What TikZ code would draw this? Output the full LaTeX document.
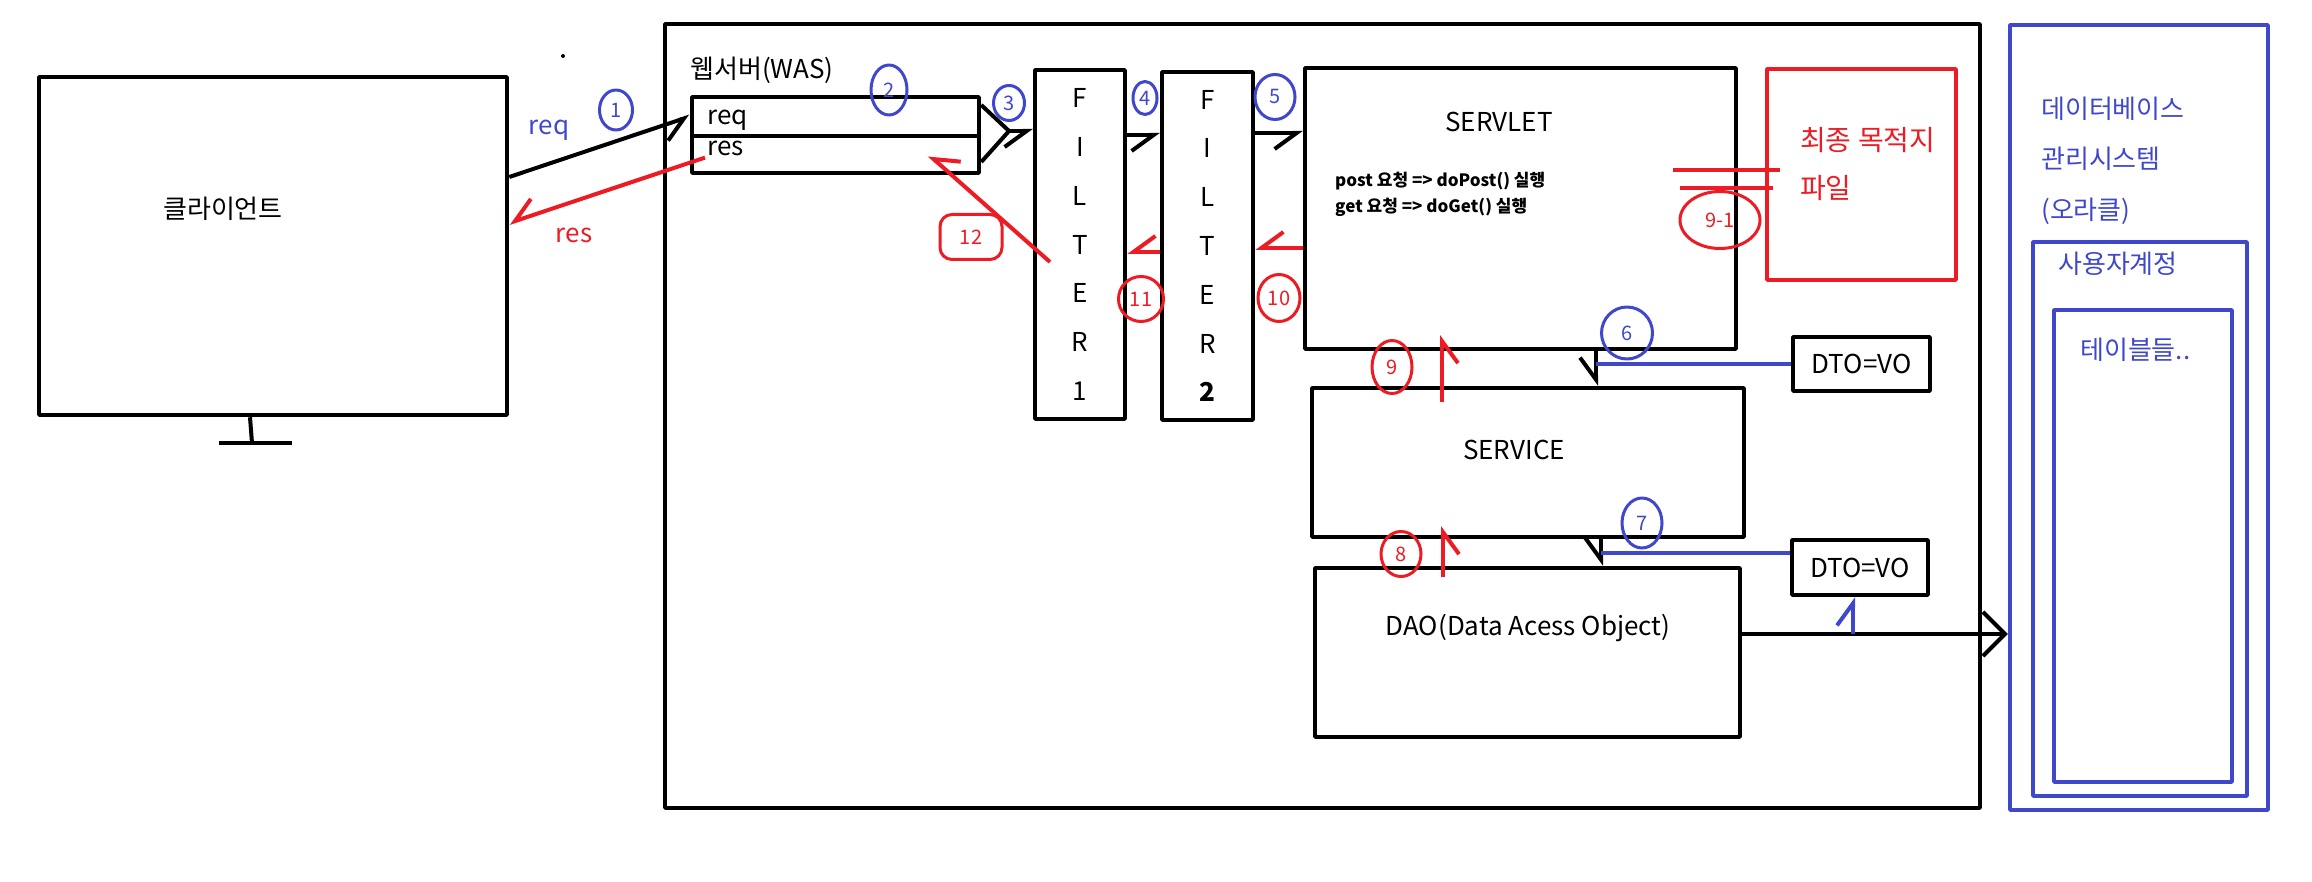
\documentclass[tikz,border=0pt]{standalone}
\usepackage{fontspec}
\setmainfont{Noto Sans CJK KR}
\usetikzlibrary{arrows.meta,shapes.geometric}
\definecolor{paintblue}{RGB}{63,72,204}
\definecolor{paintred}{RGB}{237,28,36}
\begin{document}
\begin{tikzpicture}[x=1pt,y=-1pt,line join=bevel,
  every node/.style={font=\fontsize{26}{30}\selectfont,inner sep=2pt},
  box/.style={draw,line width=4.5pt,inner sep=0pt},
  bluebox/.style={box,draw=paintblue},
  redbox/.style={box,draw=paintred},
  num/.style={ellipse,draw,line width=3pt,inner sep=0pt,font=\fontsize{20}{20}\selectfont},
  wire/.style={line width=4pt},
  barb/.style={-{Straight Barb[harpoon,swap,length=22pt,width=32pt]}},
  barbswap/.style={-{Straight Barb[harpoon,length=22pt,width=32pt]}},
]
\useasboundingbox (0,0) rectangle (2312,882);
%%
  \node [box,minimum width=468,minimum height=338] (node_client) at (273,246) {};
  \node (node_client_t) at (223,209) {클라이언트};
  \coordinate (node_stand) at (252,443);
  \draw [wire] (node_client.south -| 250,0) -- (node_stand);
  \draw [wire] (node_stand) ++(-33,0) -- ++(73,0);
  \fill (563,56) circle (2);
%%
  \node [box,minimum width=1315,minimum height=784] (node_was) at (1322.5,416) {};
  \node (node_was_t) at (762,70) {웹서버(WAS)};
  \node [box,minimum width=287,minimum height=39] (node_req) at (835.5,116.5) {};
  \node [box,minimum width=287,minimum height=37] (node_res) at (835.5,154.5) {};
  \node [anchor=west] (node_req_t) at (705,120) {req};
  \node [anchor=west] (node_res_t) at (705,148) {res};
  \node [box,minimum width=90,minimum height=349,align=center,font=\fontsize{26}{48.8}\selectfont] (node_f1) at (1080,244.5) {F\\I\\L\\T\\E\\R\\1};
  \node [box,minimum width=91,minimum height=348,align=center,font=\fontsize{26}{48.8}\selectfont] (node_f2) at (1207.5,246) {F\\I\\L\\T\\E\\R\\\textbf{2}};
  \node [box,minimum width=431,minimum height=281] (node_servlet) at (1520.5,208.5) {};
  \node (node_servlet_t) at (1499,122) {SERVLET};
  \node [anchor=west,align=left,font=\fontsize{17}{26}\selectfont\bfseries] (node_servlet_d) at (1333,194) {post 요청 => doPost() 실행\\get 요청 => doGet() 실행};
  \node [redbox,minimum width=189,minimum height=211] (node_final) at (1861.5,174.5) {};
  \node [anchor=west,align=left,text=paintred,font=\fontsize{28}{48}\selectfont] (node_final_t) at (1798,164) {최종 목적지\\파일};
  \node [box,minimum width=432,minimum height=149] (node_service) at (1528,462.5) {};
  \node (node_service_t) at (1514,450) {SERVICE};
  \node [box,minimum width=425,minimum height=169] (node_dao) at (1527.5,652.5) {};
  \node (node_dao_t) at (1528,628) {DAO(Data Acess Object)};
  \node [box,minimum width=137,minimum height=54] (node_dto_a) at (1861.5,364) {DTO=VO};
  \node [box,minimum width=136,minimum height=55] (node_dto_b) at (1860,567.5) {DTO=VO};
%%
  \node [bluebox,minimum width=258,minimum height=785] (node_db) at (2139,417.5) {};
  \node [bluebox,minimum width=214,minimum height=554] (node_user) at (2140,519) {};
  \node [bluebox,minimum width=178,minimum height=472] (node_tables) at (2143,546) {};
  \node [anchor=west,align=left,text=paintblue,font=\fontsize{26}{50.5}\selectfont] (node_db_t) at (2039,160.5) {데이터베이스\\관리시스템\\(오라클)};
  \node [anchor=west,text=paintblue] (node_user_t) at (2056,264) {사용자계정};
  \node [anchor=west,text=paintblue] (node_tables_t) at (2078,350) {테이블들..};
%% request
  \node [text=paintblue] (node_req_l) at (549,130) {req};
  \node [text=paintred] (node_res_l) at (574,235) {res};
  \draw [wire,barb] (node_client.east |- 0,177) -- (node_req.west);
  \draw [wire,paintred,barb] (node_res_t.south west) -- (node_client.east |- 0,223);
  \draw [wire] (node_req.east |- 0,105) -- (1009,131) coordinate (node_join) -- (node_res.east |- 0,162);
  \draw [wire,barb] (node_join) -- (node_f1.west |- 0,131);
  \draw [wire,barb] (node_f1.east |- 0,135) -- (node_f2.west |- 0,135);
  \draw [wire,barb] (node_f2.east |- 0,133) -- (node_servlet.west |- 0,133);
  \draw [wire,barb] (node_servlet.south -| 1596,0) -- (node_service.north -| 1596,0);
  \draw [wire,paintblue] (node_dto_a.west -| 1596,0) -- (node_dto_a.west);
  \draw [wire,barb] (node_service.south -| 1601,0) -- (node_dao.north -| 1601,0);
  \draw [wire,paintblue] (1601,553) -- (node_dto_b.west |- 0,553);
  \draw [wire,-{Straight Barb[length=22pt,width=44pt]}] (node_dao.east |- 0,634) -- (node_db.west |- 0,634);
  \draw [wire,paintblue,barbswap] (1853,634) -- (node_dto_b.south -| 1853,0);
%% response
  \coordinate (node_r12a) at (1050,262);
  \coordinate (node_r12b) at (929,155);
  \coordinate (node_r9a) at (1442,402);
  \coordinate (node_r9b) at (1442,335);
  \coordinate (node_r8a) at (1443,577);
  \coordinate (node_r8b) at (1443,526);
  \draw [wire,paintred,barb] (node_servlet.west |- 0,248) -- (node_f2.east |- 0,248);
  \draw [wire,paintred,barb] (node_f2.west |- 0,252) -- (node_f1.east |- 0,252);
  \draw [wire,paintred,barb] (node_r12a) -- (node_r12b);
  \draw [wire,paintred,barb] (node_r9a) -- (node_r9b);
  \draw [wire,paintred,barb] (node_r8a) -- (node_r8b);
  \draw [wire,paintred] (1673,170) -- (1780,170);
  \draw [wire,paintred] (1680,188) -- (1773,188);
%% numbers
  \node [num,draw=paintblue,text=paintblue,minimum width=33,minimum height=40] (node_n1) at (616,110) {1};
  \node [num,draw=paintblue,text=paintblue,minimum width=36,minimum height=50] (node_n2) at (889,90) {2};
  \node [num,draw=paintblue,text=paintblue,minimum width=31,minimum height=35] (node_n3) at (1009,103) {3};
  \node [num,draw=paintblue,text=paintblue,minimum width=24,minimum height=33] (node_n4) at (1145,98) {4};
  \node [num,draw=paintblue,text=paintblue,minimum width=40,minimum height=45] (node_n5) at (1275,97) {5};
  \node [num,draw=paintblue,text=paintblue,minimum width=51,minimum height=52] (node_n6) at (1627,333) {6};
  \node [num,draw=paintblue,text=paintblue,minimum width=40,minimum height=50] (node_n7) at (1642,523) {7};
  \node [num,draw=paintred,text=paintred,minimum width=40,minimum height=45] (node_n8) at (1401,554) {8};
  \node [num,draw=paintred,text=paintred,minimum width=40,minimum height=53] (node_n9) at (1392,367) {9};
  \node [num,draw=paintred,text=paintred,minimum width=80,minimum height=57] (node_n91) at (1720,220) {9-1};
  \node [num,draw=paintred,text=paintred,minimum width=42,minimum height=47] (node_n10) at (1279,298) {10};
  \node [num,draw=paintred,text=paintred,minimum width=45,minimum height=45] (node_n11) at (1141,299) {11};
  \node [num,rectangle,rounded corners=12pt,draw=paintred,text=paintred,minimum width=62,minimum height=45] (node_n12) at (971,237) {12};
\end{tikzpicture}
\end{document}
